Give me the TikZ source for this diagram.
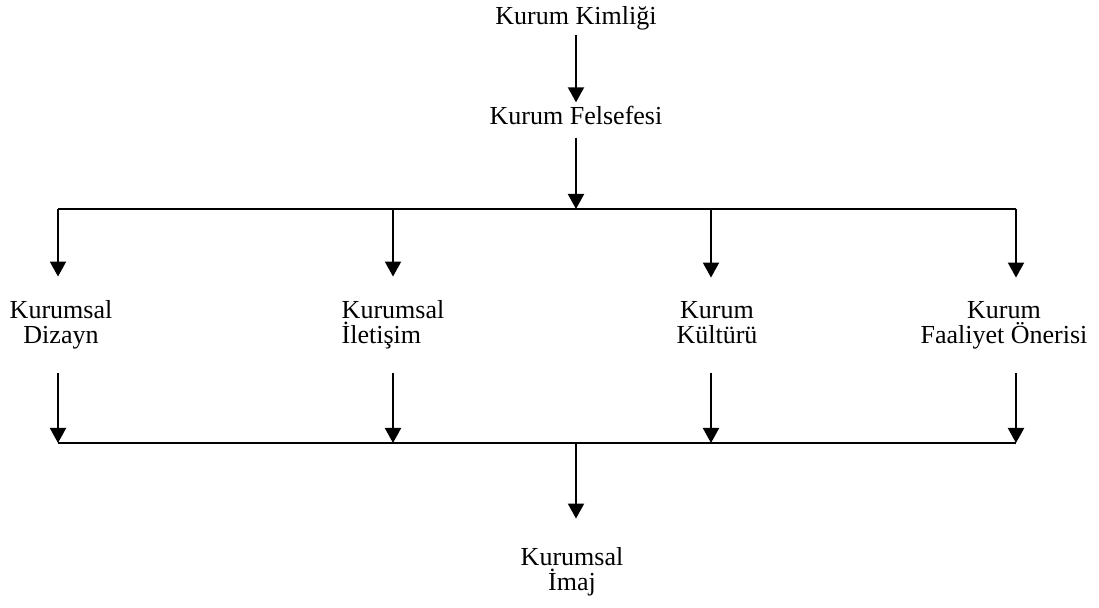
\documentclass[tikz,border=0pt]{standalone}
\usepackage{fontspec}
\setmainfont{Liberation Serif}
\usetikzlibrary{arrows.meta}
\usetikzlibrary{positioning}

\begin{document}
\begin{tikzpicture}[x=0.5pt, y=-0.5pt,
        font=\fontsize{13}{12.5}\selectfont,
        arr/.style={-{Triangle[width=8pt,length=7.5pt]}, line width=1pt},
        bus/.style={line width=1pt},
        lbl/.style={align=center, inner sep=0pt, anchor=base}]
            \useasboundingbox (0,0) rectangle (1099,608);

            \node[inner sep=2pt, anchor=base] (kimlik) at (576,25) {Kurum Kimliği};
            \node[inner sep=2pt, anchor=base] (felsefe) at (576,125) {Kurum Felsefesi};
            \node[lbl] (dizayn) at (61,344) {Kurumsal\\Dizayn};
            \node[lbl, align=left] (iletisim) at (393,344) {Kurumsal\\İletişim};
            \node[lbl] (kultur) at (717,344) {Kurum\\Kültürü};
            \node[lbl] (faaliyet) at (1004,344) {Kurum\\Faaliyet Önerisi};
            \node[lbl] (imaj) at (572,591) {Kurumsal\\İmaj};

            % upper bus
            \coordinate (ut) at (576,209);
            \coordinate (u1) at (58,209);
            \coordinate (u2) at (393,209);
            \coordinate (u3) at (711,209);
            \coordinate (u4) at (1016,209);
            % lower bus
            \coordinate (w) at (576,443);
            \coordinate (v1) at (58,443);
            \coordinate (v2) at (393,443);
            \coordinate (v3) at (711,443);
            \coordinate (v4) at (1016,443);

            \draw[arr] (kimlik) -- (felsefe);
            \draw[arr, shorten <=4pt] (felsefe) -- (ut);
            \draw[bus] (u1) -- (u4);
            \draw[arr, shorten >=12pt] (u1) -- (u1 |- dizayn.north);
            \draw[arr, shorten >=12pt] (u2) -- (u2 |- iletisim.north);
            \draw[arr, shorten >=12pt] (u3) -- (u3 |- kultur.north);
            \draw[arr, shorten >=12pt] (u4) -- (u4 |- faaliyet.north);

            \draw[arr, shorten <=11.5pt] (v1 |- dizayn.south) -- (v1);
            \draw[arr, shorten <=11.5pt] (v2 |- iletisim.south) -- (v2);
            \draw[arr, shorten <=14pt] (v3 |- kultur.south) -- (v3);
            \draw[arr, shorten <=11.5pt] (v4 |- faaliyet.south) -- (v4);
            \draw[bus] (v1) -- (v4);
            \draw[arr, shorten >=14.5pt] (w) -- (w |- imaj.north);
\end{tikzpicture}
\end{document}
